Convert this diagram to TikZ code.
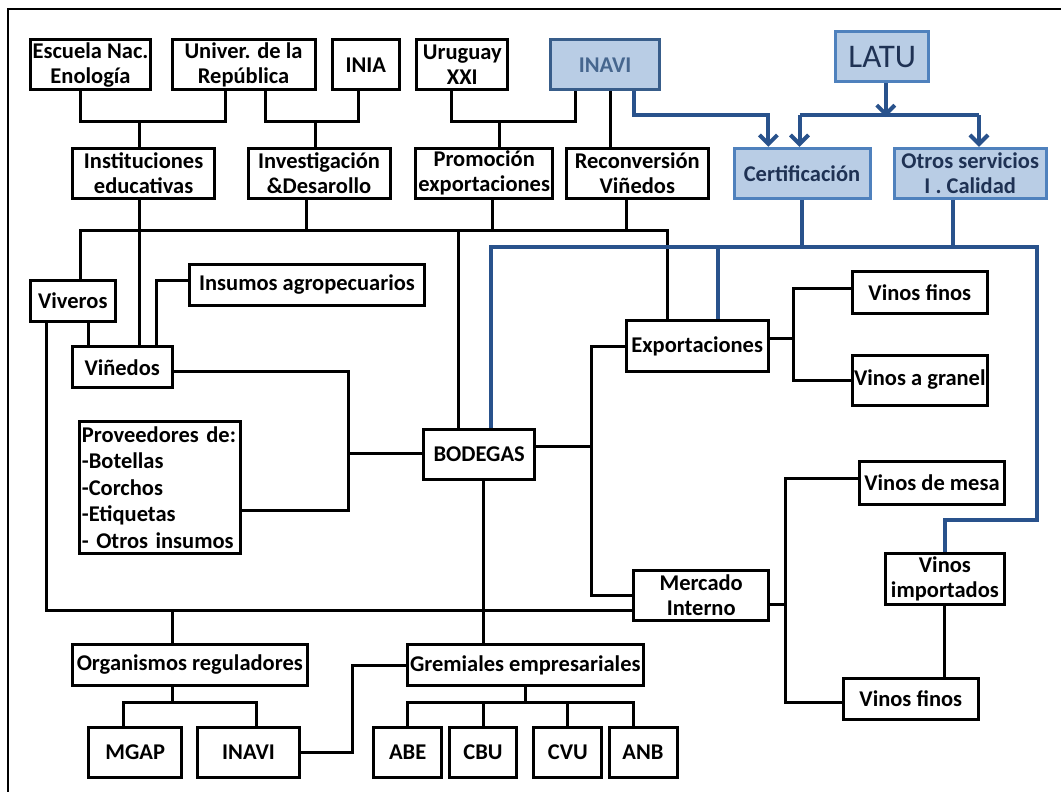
\documentclass[tikz,border=0pt]{standalone}
\usepackage{fontspec}
\setmainfont{Carlito}
\usetikzlibrary{arrows.meta}
\definecolor{bfill}{RGB}{185,205,229}
\definecolor{bdark}{RGB}{56,93,138}
\definecolor{bmid}{RGB}{79,129,189}
\definecolor{btext}{RGB}{31,50,84}
\definecolor{itext}{RGB}{70,102,142}
\definecolor{bline}{RGB}{41,82,140}
\tikzset{
  box/.style={draw=black, line width=3pt, fill=white, inner sep=0pt, align=center,
    font=\fontsize{22.5}{25}\selectfont\bfseries},
  bbox/.style={draw=bmid, line width=3pt, fill=bfill, inner sep=0pt, align=center,
    text=btext, font=\fontsize{22.5}{25}\selectfont\bfseries},
  conn/.style={draw=black, line width=3pt},
  bconn/.style={draw=bline, line width=4pt},
  barrow/.style={draw=bline, line width=4pt, -{Straight Barb[length=9pt,width=18pt,line width=4pt]}},
}
\begin{document}
\begin{tikzpicture}[x=1pt,y=-1pt]
\useasboundingbox (0,0) rectangle (1061,792);
\fill[white] (0,0) rectangle (1061,792);
\draw[line width=2pt] (7.6,792) -- (7.6,9.3) -- (1061,9.3);

% row 1
\node[box, minimum width=120.5, minimum height=50] (escuela) at (90.5,65) {Escuela Nac.\\Enología};
\node[box, minimum width=143, minimum height=50] (univer) at (243.5,65) {Univer. de la\\República};
\node[box, minimum width=67.5, minimum height=50] (inia) at (365.8,65) {INIA};
\node[box, minimum width=91.3, minimum height=50] (uruguay) at (462.3,65) {Uruguay\\XXI};
\node[bbox, draw=bdark, text=itext, minimum width=109.4, minimum height=50] (inavi) at (605.1,65) {INAVI};
\node[bbox, font=\fontsize{33}{36}\selectfont, minimum width=93.3, minimum height=50] (latu) at (882.3,56.7) {LATU};
% row 2
\node[box, minimum width=142.7, minimum height=50] (instit) at (143.6,173.3) {Instituciones\\educativas};
\node[box, minimum width=142, minimum height=50] (invest) at (319,173.3) {Investigación\\\&Desarollo};
\node[box, minimum width=137.2, minimum height=50] (promo) at (484.2,173.3) {Promoción\\exportaciones};
\node[box, minimum width=141.4, minimum height=50] (reconv) at (637.3,173.3) {Reconversión\\Viñedos};
\node[bbox, minimum width=136, minimum height=50] (cert) at (802,173.3) {Certificación};
\node[bbox, minimum width=151.6, minimum height=50] (otros) at (970.2,173.3) {Otros servicios\\I . Calidad};
% middle
\node[box, minimum width=85.1, minimum height=41] (viveros) at (72.8,300.5) {Viveros};
\node[box, minimum width=235.2, minimum height=41] (insumos) at (307,284.5) {Insumos agropecuarios};
\node[box, minimum width=99.9, minimum height=41] (vinedos) at (122.2,367.2) {Viñedos};
\node[box, minimum width=161.1, minimum height=132.3, align=left, text width=157,
  font=\fontsize{22.5}{26.5}\selectfont\bfseries] (proveed) at (160.4,487.2)
  {Proveedores de:\\-Botellas\\-Corchos\\-Etiquetas\\- Otros insumos};
\node[box, minimum width=111.2, minimum height=50] (bodegas) at (479.2,454) {BODEGAS};
\node[box, minimum width=142.4, minimum height=50.7] (export) at (697.2,346.3) {Exportaciones};
\node[box, minimum width=135.6, minimum height=41.6] (vfinos1) at (919.8,292.5) {Vinos finos};
\node[box, minimum width=135.6, minimum height=50] (granel) at (919.8,380) {Vinos a granel};
\node[box, minimum width=144.1, minimum height=42.6] (mesa) at (932,483) {Vinos de mesa};
\node[box, minimum width=134.5, minimum height=50] (mercado) at (701.2,595) {Mercado\\Interno};
\node[box, minimum width=118.2, minimum height=50.7] (vimport) at (944.9,578.7) {Vinos\\importados};
\node[box, minimum width=134.9, minimum height=40.7] (vfinos2) at (910.8,698.7) {Vinos finos};
% bottom
\node[box, minimum width=234.9, minimum height=41.4] (organ) at (189.8,665) {Organismos reguladores};
\node[box, minimum width=235.8, minimum height=41.4] (gremia) at (525.3,665) {Gremiales empresariales};
\node[box, minimum width=93, minimum height=50] (mgap) at (135.3,752.3) {MGAP};
\node[box, minimum width=102.3, minimum height=50] (inavi2) at (248.5,752.3) {INAVI};
\node[box, minimum width=68.2, minimum height=50] (abe) at (407.7,752.3) {ABE};
\node[box, minimum width=67.1, minimum height=50] (cbu) at (483,752.3) {CBU};
\node[box, minimum width=68, minimum height=50] (cvu) at (567.8,752.3) {CVU};
\node[box, minimum width=68, minimum height=50] (anb) at (643,752.3) {ANB};

% helper coordinates
\coordinate (busY) at (0,230);
\coordinate (blueY) at (0,246.7);
\coordinate (arrY) at (0,115);
\coordinate (botY) at (0,702.3);

% row1 -> row2
\coordinate (j1) at (139.5,121.7);
\draw[conn] ([xshift=-10.5]escuela.south) |- (j1) -| ([xshift=-18]univer.south);
\draw[conn] (j1) -- (j1 |- instit.north);
\coordinate (j2) at (315,121.7);
\draw[conn] ([xshift=21.5]univer.south) |- (j2) -| ([xshift=-7.8]inia.south);
\draw[conn] (j2) -- (j2 |- invest.north);
\coordinate (j3) at (499,121.7);
\draw[conn] ([xshift=-11.3]uruguay.south) |- (j3) -| ([xshift=-29.9]inavi.south);
\draw[conn] (j3) -- (j3 |- promo.north);
\coordinate (irc) at ([xshift=5.3]inavi.south);
\draw[conn] (irc) -- (irc |- reconv.north);

% black bus
\coordinate (vvt) at ([xshift=7.2]viveros.north);
\coordinate (ext) at ([xshift=-29.5]export.north);
\draw[conn] (vvt) |- (busY -| ext) -- (ext);
\coordinate (q1) at ([xshift=17.3]vinedos.north);
\draw[conn] (q1 |- instit.south) -- (q1);
\coordinate (ivs) at ([xshift=-12.5]invest.south);
\draw[conn] (ivs) -- (ivs |- busY);
\coordinate (pms) at ([xshift=8.2]promo.south);
\draw[conn] (pms) -- (pms |- busY);
\coordinate (rcs) at ([xshift=-11.3]reconv.south);
\draw[conn] (rcs) -- (rcs |- busY);
\coordinate (bdt) at ([xshift=-21.2]bodegas.north);
\draw[conn] (bdt |- busY) -- (bdt);

% viveros / vinedos / insumos
\coordinate (vvb) at ([xshift=16]viveros.south);
\draw[conn] (vvb) -- (vvb |- vinedos.north);
\coordinate (ins) at ([yshift=4.5]insumos.west);
\coordinate (vit) at ([xshift=34.5]vinedos.north);
\draw[conn] (ins) -| (vit);
\coordinate (vir) at ([yshift=-4.5]vinedos.east);
\coordinate (prr) at ([yshift=-23.5]proveed.east);
\coordinate (jv) at (348.8,453.3);
\draw[conn] (vir) -| (jv) |- (prr);
\draw[conn] (jv) -- (jv -| bodegas.west);

% long lower line
\coordinate (mci) at ([yshift=-15]mercado.west);
\coordinate (vvl) at ([xshift=-26.3]viveros.south);
\draw[conn] (vvl) |- (mci);
\coordinate (ogt) at ([xshift=-16.9]organ.north);
\draw[conn] (ogt) -- (ogt |- mci);
\coordinate (bdb) at ([xshift=3.9]bodegas.south);
\draw[conn] (bdb) -- (bdb |- gremia.north);

% bodegas -> markets
\coordinate (jx) at (591.8,446.7);
\draw[conn] (export.west) -| (jx) |- (mercado.west);
\draw[conn] ([yshift=7.3]bodegas.east) -- (jx);
\coordinate (je) at (793.6,338.3);
\draw[conn] ([yshift=8]export.east) -- (je);
\draw[conn] ([yshift=4.2]vfinos1.west) -| (je) |- (granel.west);
\coordinate (jm) at (785,604);
\draw[conn] ([yshift=-9]mercado.east) -- (jm);
\draw[conn] ([yshift=4.7]mesa.west) -| (jm) |- ([yshift=-3.6]vfinos2.west);
\coordinate (vib) at ([xshift=-0.5]vimport.south);
\draw[conn] (vib) -- (vib |- vfinos2.north);

% bottom trees
\coordinate (ogb) at ([xshift=-16.9]organ.south);
\draw[conn] (ogb) -- (ogb |- botY);
\coordinate (mgt) at ([xshift=-12]mgap.north);
\coordinate (i2t) at ([xshift=8]inavi2.north);
\draw[conn] (mgt) |- (botY -| i2t) -- (i2t);
\coordinate (jg) at (352.3,665);
\draw[conn] (inavi2.east) -| (jg) -- (gremia.west);
\draw[conn] (gremia.south) -- (gremia.south |- botY);
\coordinate (ant) at ([xshift=-9.1]anb.north);
\draw[conn] (abe.north) |- (botY -| ant) -- (ant);
\draw[conn] (cbu.north) -- (cbu.north |- botY);
\draw[conn] (cvu.north) -- (cvu.north |- botY);

% blue arrows
\coordinate (ib) at ([xshift=28.8]inavi.south);
\coordinate (ca) at ([xshift=-33.6]cert.north);
\draw[barrow] (ib) |- (arrY -| ca) -- (ca);
\coordinate (ls) at ([xshift=3.5]latu.south);
\draw[barrow] (ls) -- ([yshift=-2]ls |- arrY);
\coordinate (cb) at ([xshift=-2.5]cert.north);
\coordinate (ot) at ([xshift=8.8]otros.north);
\draw[bconn] (arrY -| cb) -- (arrY -| ot);
\draw[barrow] (arrY -| cb) -- (cb);
\draw[barrow] (arrY -| ot) -- (ot);

% blue bus
\coordinate (bbt) at ([xshift=11.5]bodegas.north);
\coordinate (rc) at (1036.6,520);
\draw[bconn] (bbt) |- (rc |- blueY) -- (rc) -| (vimport.north);
\draw[bconn] (cert.south) -- (cert.south |- blueY);
\coordinate (os) at ([xshift=-17.2]otros.south);
\draw[bconn] (os) -- (os |- blueY);
\coordinate (ebt) at ([xshift=20.5]export.north);
\draw[bconn] (ebt |- blueY) -- (ebt);
\end{tikzpicture}
\end{document}
